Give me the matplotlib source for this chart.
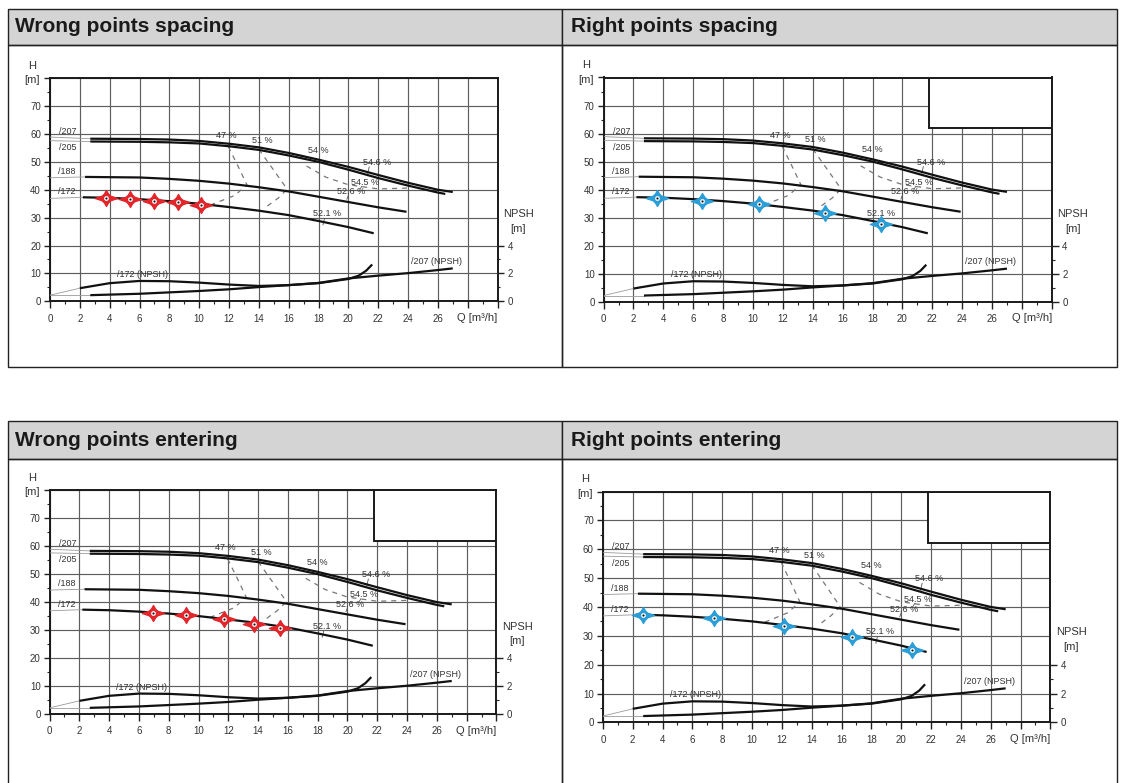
import numpy as np
import matplotlib.pyplot as plt
from matplotlib.path import Path
from matplotlib.patches import Rectangle

plt.rcParams['font.family'] = ['Liberation Sans', 'DejaVu Sans']

# pump curves, H [m] against Q [m3/h]
q207 = [2.7, 6, 8, 10, 12, 14, 16, 18, 20, 22, 24, 26, 27.0]
h207 = [58.3, 58.2, 58.0, 57.5, 56.5, 55.2, 53.2, 50.8, 48.2, 45.3, 42.5, 40.0, 39.2]
q205 = [2.7, 6, 8, 10, 12, 14, 16, 18, 20, 22, 24, 26, 26.5]
h205 = [57.3, 57.2, 57.0, 56.6, 55.6, 54.3, 52.3, 50.0, 47.2, 44.2, 41.5, 39.0, 38.5]
q188 = [2.35, 6, 8, 10, 12, 14, 16, 18, 20, 22, 23.9]
h188 = [44.6, 44.4, 43.9, 43.2, 42.2, 40.9, 39.4, 37.5, 35.6, 33.7, 32.1]
q172 = [2.2, 4, 6, 8, 10, 12, 14, 16, 18, 20, 21.7]
h172 = [37.3, 37.1, 36.6, 35.9, 35.0, 33.8, 32.5, 30.9, 28.8, 26.6, 24.4]

# NPSH curves (drawn on the H scale, NPSH = H / 5)
q172_npsh = [2, 4, 6, 8, 10, 12, 14, 16, 18, 20, 20.7, 21.2, 21.6]
h172_npsh = [4.7, 6.5, 7.3, 7.2, 6.7, 6.0, 5.5, 5.8, 6.5, 8.0, 9.2, 11.0, 13.2]
q207_npsh = [2.7, 6, 10, 12, 14, 16, 18, 20, 22, 24, 26, 27]
h207_npsh = [2.2, 2.7, 3.7, 4.3, 5.1, 5.8, 6.6, 8.2, 9.2, 10.1, 11.2, 11.8]

# iso-efficiency lines
eff47_q = [11.95, 12.6, 13.2, 12.4, 10.8]
eff47_h = [55.5, 48.5, 41.8, 38.0, 34.6]
eff51_q = [14.0, 15.0, 15.9, 15.3, 14.4]
eff51_h = [54.5, 47.0, 40.2, 37.0, 33.5]
eff54_q = [17.2, 18.5, 20.0, 22.0, 24.0]
eff54_h = [48.5, 44.5, 41.8, 40.3, 40.6]

# operating points entered by the user in each panel
titles = ['Wrong points spacing', 'Right points spacing',
          'Wrong points entering', 'Right points entering']
pts_q = [[3.78, 5.36, 6.96, 8.56, 10.12],
         [3.57, 6.57, 10.38, 14.8, 18.6],
         [6.96, 9.16, 11.7, 13.7, 15.5],
         [2.69, 7.43, 12.14, 16.7, 20.7]]
pts_h = [[37.1, 36.7, 36.1, 35.5, 34.5],
         [37.0, 35.9, 34.7, 31.6, 27.9],
         [36.2, 35.4, 34.1, 32.2, 30.8],
         [37.1, 36.0, 33.3, 29.5, 25.1]]
pt_colors = ['#e3262b', '#2b9ed8', '#e3262b', '#2b9ed8']
has_box = [False, True, True, True]

W, H = 1122, 783
fig = plt.figure(figsize=(W / 100, H / 100), dpi=100)

def fx(px):
    return px / W

def fy(py):
    return 1 - py / H

# table cells with grey headers
cols = [7.5, 562, 1117]
rows = [(8.5, 45.3, 367.5), (421, 458.5, 800)]
for (y0, yh, y1) in rows:
    for i in range(2):
        x0, x1 = cols[i], cols[i + 1]
        fig.add_artist(Rectangle((fx(x0), fy(yh)), fx(x1 - x0), (yh - y0) / H,
                                 transform=fig.transFigure, facecolor='#d4d4d4',
                                 edgecolor='#222222', lw=1.0))
        fig.add_artist(Rectangle((fx(x0), fy(y1)), fx(x1 - x0), (y1 - yh) / H,
                                 transform=fig.transFigure, facecolor='none',
                                 edgecolor='#222222', lw=1.0))

title_pos = [(15, 27), (571, 27), (15, 440), (571, 440)]
ax_px = [(50, 497.5, 78.2, 301.3), (603.6, 1051.8, 77.5, 301.7),
         (49.6, 496.4, 490.2, 714), (602.9, 1050.4, 491.5, 722.4)]

# four point star, wider than tall
star = Path([(1.4, 0), (0.38, 0.34), (0, 1), (-0.38, 0.34), (-1.4, 0),
             (-0.38, -0.34), (0, -1), (0.38, -0.34), (1.4, 0)],
            [Path.MOVETO] + [Path.LINETO] * 7 + [Path.CLOSEPOLY])

txt = '#333333'
curve_kw = dict(color='#111111', lw=1.6, solid_capstyle='butt', zorder=4)
thin_kw = dict(color='#9a9a9a', lw=0.6, zorder=3)
dash_kw = dict(color='#777777', lw=0.9, dashes=(4, 4), zorder=3)

for k in range(4):
    fig.text(fx(title_pos[k][0]), fy(title_pos[k][1]), titles[k], fontsize=15,
             fontweight='bold', color='#1a1a1a', ha='left', va='center')

    l, r, t, b = ax_px[k]
    ax = fig.add_axes([fx(l), fy(b), fx(r - l), (b - t) / H])
    ax.set_xlim(0, 30)
    ax.set_ylim(0, 80)

    ax.set_xticks(range(0, 31, 2))
    ax.set_xticklabels([str(v) if v <= 26 else '' for v in range(0, 31, 2)])
    ax.set_xticks(range(1, 30, 2), minor=True)
    ax.set_yticks(range(0, 81, 10))
    ax.set_yticklabels([str(v) if v <= 70 else '' for v in range(0, 81, 10)])
    ax.set_yticks(range(5, 80, 10), minor=True)
    ax.tick_params(which='major', direction='out', length=4, width=1,
                   color='#222222', labelsize=7, labelcolor=txt, pad=2.5)
    ax.tick_params(axis='x', which='major', length=5, pad=4)
    ax.tick_params(which='minor', direction='out', length=2, width=0.8, color='#222222')
    ax.grid(True, which='major', color='#5e5e5e', lw=0.85, zorder=0)
    ax.set_axisbelow(True)
    for s in ax.spines.values():
        s.set_linewidth(1.4)
        s.set_color('#1a1a1a')

    # NPSH scale on the right
    ax2 = ax.twinx()
    ax2.set_ylim(0, 16)
    ax2.set_yticks([0, 2, 4])
    ax2.set_yticks([1, 3], minor=True)
    ax2.tick_params(which='major', direction='out', length=5, width=1,
                    color='#222222', labelsize=7, labelcolor=txt, pad=2.5)
    ax2.tick_params(which='minor', direction='out', length=2, width=0.8, color='#222222')
    for s in ax2.spines.values():
        s.set_visible(False)

    if has_box[k]:
        ax.add_patch(Rectangle((21.8, 62), 8.2, 18, facecolor='white',
                               edgecolor='#1a1a1a', lw=1.4, zorder=2.5))

    # leaders from the H axis to the curve starts
    ax.plot([0, q207[0]], [58.9, h207[0]], **thin_kw)
    ax.plot([0, q205[0]], [57.6, h205[0]], **thin_kw)
    ax.plot([0, q188[0]], [44.3, h188[0]], **thin_kw)
    ax.plot([0, q172[0]], [36.9, h172[0]], **thin_kw)
    ax.plot([0, q172_npsh[0]], [2.2, h172_npsh[0]], **thin_kw)
    ax.plot([0, q207_npsh[0]], [2.2, h207_npsh[0]], **thin_kw)

    ax.plot(q207, h207, **curve_kw)
    ax.plot(q205, h205, **curve_kw)
    ax.plot(q188, h188, **curve_kw)
    ax.plot(q172, h172, **curve_kw)
    ax.plot(q172_npsh, h172_npsh, **curve_kw)
    ax.plot(q207_npsh, h207_npsh, **curve_kw)

    ax.plot(eff47_q, eff47_h, **dash_kw)
    ax.plot(eff51_q, eff51_h, **dash_kw)
    ax.plot(eff54_q, eff54_h, **dash_kw)

    lab = dict(fontsize=6.5, color=txt, ha='center', va='center', zorder=5)
    ax.text(1.2, 60.8, '/207', **lab)
    ax.text(1.2, 55.2, '/205', **lab)
    ax.text(1.15, 46.5, '/188', **lab)
    ax.text(1.15, 39.2, '/172', **lab)
    ax.text(6.2, 9.6, '/172 (NPSH)', **lab)
    ax.text(25.9, 14.2, '/207 (NPSH)', **lab)
    ax.text(11.8, 59.4, '47 %', **lab)
    ax.text(14.2, 57.8, '51 %', **lab)
    ax.text(18.0, 54.2, '54 %', **lab)
    ax.text(21.9, 49.8, '54.6 %', **lab)
    ax.text(21.1, 42.6, '54.5 %', **lab)
    ax.text(20.2, 39.2, '52.6 %', **lab)
    ax.text(18.6, 31.4, '52.1 %', **lab)
    # little ticks from the percent labels down to the curves
    for (tq, ht, hb) in [(21.4, 48.2, 45.8), (20.9, 41.2, 40.3),
                         (20.0, 38.0, 36.6), (18.4, 29.6, 27.4)]:
        ax.plot([tq, tq - 0.1], [ht, hb], color='#555555', lw=0.6, zorder=3)

    big = dict(fontsize=8, color=txt, va='center', clip_on=False)
    ax.text(-1.2, 84.5, 'H', ha='center', **big)
    ax.text(-1.2, 79.2, '[m]', ha='center', **big)
    ax.text(31.4, 31.2, 'NPSH', ha='center', **big)
    ax.text(31.4, 26.0, '[m]', ha='center', **big)
    ax.text(30, -5.9, 'Q [m\u00b3/h]', ha='right', **big)

    c = pt_colors[k]
    ax.plot(pts_q[k], pts_h[k], linestyle='none', marker='o', markersize=7.5,
            markerfacecolor=c, markeredgewidth=0, zorder=6)
    ax.plot(pts_q[k], pts_h[k], linestyle='none', marker=star, markersize=16,
            markerfacecolor=c, markeredgecolor=c, markeredgewidth=1.0, zorder=6)
    ax.plot(pts_q[k], pts_h[k], linestyle='none', marker='o', markersize=3.5,
            markerfacecolor='#f4f4f4', markeredgewidth=0, zorder=7)
    ax.plot(pts_q[k], pts_h[k], linestyle='none', marker='o', markersize=1.5,
            markerfacecolor='#111111', markeredgewidth=0, zorder=8)

fig.savefig('out.png', dpi=100)
